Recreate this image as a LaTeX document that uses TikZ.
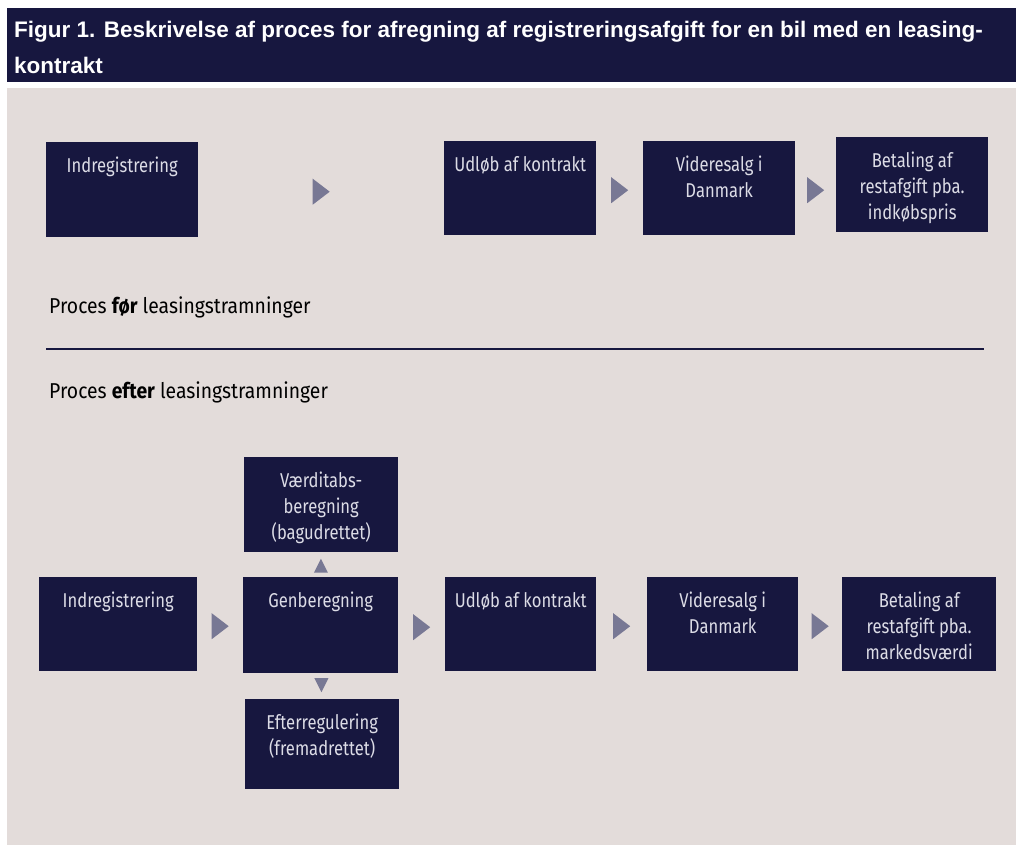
\documentclass[tikz,border=0pt]{standalone}
\usepackage{fontspec}
\setmainfont[FakeStretch=0.83]{Fira Sans}
\newfontfamily\titlefont{Liberation Sans}
\newfontfamily\plainfont[FakeStretch=0.9]{Fira Sans}
\usetikzlibrary{calc}

\definecolor{navy}{HTML}{17173F}
\definecolor{panelgray}{HTML}{E3DCDA}
\definecolor{tipgray}{HTML}{787894}
\definecolor{boxtext}{HTML}{DCDCE6}

\tikzset{
  procbox/.style={
    fill=navy,
    anchor=north west,
    inner sep=0pt,
    minimum width=#1
  },
  boxlabel/.style={
    anchor=north,
    yshift=-15pt,
    inner sep=0pt,
    align=center,
    text=boxtext,
    font=\fontsize{20}{26}\selectfont
  },
  arrowtip/.style={fill=tipgray}
}

\begin{document}
\begin{tikzpicture}[x=1pt, y=-1pt]
  \useasboundingbox (0,0) rectangle (1016,845);
  % title bar and panel
  \fill[navy] (7,8) rectangle (1016,82);
  \fill[panelgray] (7,88) rectangle (1016,845);
  \node[anchor=north west, inner sep=0pt, align=left, text=white,
        font=\titlefont\bfseries\fontsize{22.5}{36}\selectfont] (title) at (14,21)
    {Figur 1. Beskrivelse af proces for afregning af registreringsafgift for en bil med en leasing-\\kontrakt};

  % process before
  \node[procbox=152pt, minimum height=95pt,
        label={[boxlabel]north:Indregistrering}] (indreg) at (46,142) {};
  \node[procbox=152pt, minimum height=94pt,
        label={[boxlabel]north:Udløb af kontrakt}] (udloeb) at (444,141) {};
  \node[procbox=152pt, minimum height=94pt,
        label={[boxlabel]north:Videresalg i\\Danmark}] (videre) at (643,141) {};
  \node[procbox=152pt, minimum height=95pt,
        label={[boxlabel]north:Betaling af\\restafgift pba.\\indkøbspris}] (betal) at (836,137) {};

  \node[anchor=base west, inner sep=0pt, font=\plainfont\fontsize{21.5}{24}\selectfont] (foer) at (49,313)
    {Proces \textbf{før} leasingstramninger};
  \draw[navy, line width=2pt] (46,349) -- (984,349);
  \node[anchor=base west, inner sep=0pt, font=\plainfont\fontsize{21.5}{24}\selectfont] (efter) at (49,398)
    {Proces \textbf{efter} leasingstramninger};

  % process after
  \node[procbox=154pt, minimum height=95pt,
        label={[boxlabel]north:Værditabs-\\beregning\\(bagudrettet)}] (vaerdi) at (244,457) {};
  \node[procbox=158pt, minimum height=94pt,
        label={[boxlabel]north:Indregistrering}] (indregB) at (39,577) {};
  \node[procbox=155pt, minimum height=96pt,
        label={[boxlabel]north:Genberegning}] (genber) at (243,577) {};
  \node[procbox=154pt, minimum height=90pt,
        label={[boxlabel]north:Efterregulering\\(fremadrettet)}] (efterreg) at (245,699) {};
  \node[procbox=151pt, minimum height=94pt,
        label={[boxlabel]north:Udløb af kontrakt}] (udloebB) at (445,577) {};
  \node[procbox=151pt, minimum height=94pt,
        label={[boxlabel]north:Videresalg i\\Danmark}] (videreB) at (647,577) {};
  \node[procbox=154pt, minimum height=94pt,
        label={[boxlabel]north:Betaling af\\restafgift pba.\\markedsværdi}] (betalB) at (842,577) {};

  % arrow heads between boxes
  \foreach \a/\b in {indreg/udloeb, udloeb/videre, videre/betal,
                     indregB/genber, genber/udloebB, udloebB/videreB, videreB/betalB}
    \fill[arrowtip] ($(\a.east)!0.5!(\b.west |- \a.east)$) ++(-8.5,-11) -- ++(17,13) -- ++(-17,13) -- cycle;
  \fill[arrowtip] ($(genber.north)!0.5!(vaerdi.south)$) ++(-7,8) -- ++(7,-14) -- ++(7,14) -- cycle;
  \fill[arrowtip] ($(genber.south)!0.5!(efterreg.north)$) ++(-7,-8) -- ++(7,14) -- ++(7,-14) -- cycle;
\end{tikzpicture}
\end{document}
